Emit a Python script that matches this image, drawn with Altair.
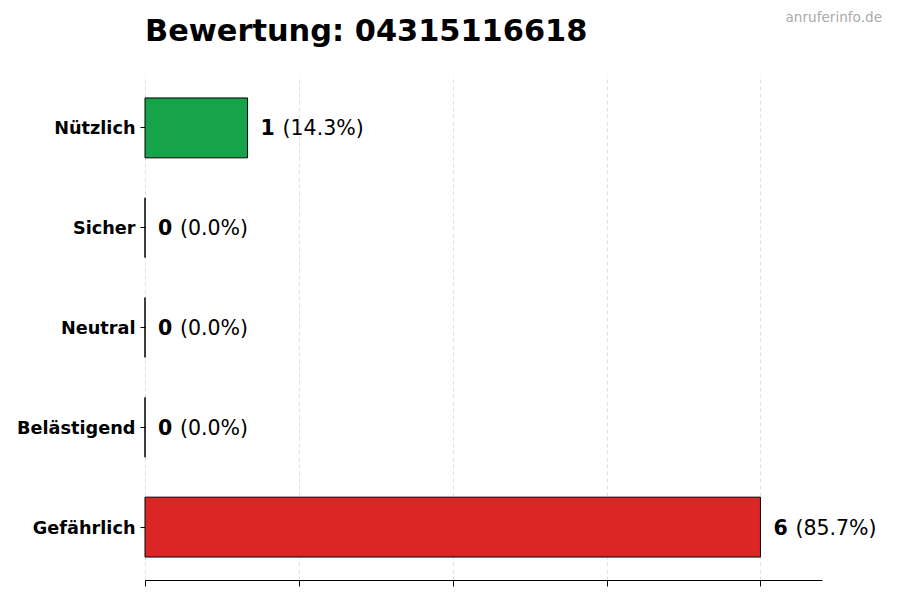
import altair as alt
import pandas as pd

categories = ["Nützlich", "Sicher", "Neutral", "Belästigend", "Gefährlich"]
counts = [1, 0, 0, 0, 6]
percent_labels = ["(14.3%)", "(0.0%)", "(0.0%)", "(0.0%)", "(85.7%)"]
colors = ["#16a34a", "#2563eb", "#6b7280", "#f59e0b", "#dc2626"]
x_ticks = [0, 1.5, 3, 4.5, 6]
title_text = "Bewertung: 04315116618"
watermark_text = "anruferinfo.de"

df = pd.DataFrame({"cat": categories, "n": counts, "pct": percent_labels})

FONT = "DejaVu Sans"
W, H = 677, 505

y_scale = alt.Scale(paddingInner=0.4, paddingOuter=0.23)
y_enc = alt.Y(
    "cat:N",
    sort=categories,
    scale=y_scale,
    axis=alt.Axis(
        title=None,
        labelFont=FONT,
        labelFontSize=17.7,
        labelFontWeight="bold",
        labelColor="black",
        labelPadding=5,
        labelOffset=1.5,
        tickSize=5,
        tickColor="black",
        domain=False,
        grid=False,
    ),
)
x_scale = alt.Scale(domain=[0, 6.6], nice=False, zero=True)

bars = alt.Chart(df).mark_bar(stroke="black", strokeWidth=1).encode(
    x=alt.X(
        "n:Q",
        scale=x_scale,
        axis=alt.Axis(
            title=None,
            values=x_ticks,
            labels=False,
            tickSize=6,
            tickColor="black",
            domainColor="black",
            domainWidth=1,
            grid=True,
            gridDash=[4, 3],
            gridColor="#d8d8d8",
            gridWidth=0.8,
        ),
    ),
    y=y_enc,
    color=alt.Color("cat:N", scale=alt.Scale(domain=categories, range=colors), legend=None),
)

num_text = alt.Chart(df).mark_text(
    align="left", baseline="middle", dx=13, dy=1.5, font=FONT, fontSize=20.5, fontWeight="bold", color="black"
).encode(
    x=alt.X("n:Q", scale=x_scale),
    y=alt.Y("cat:N", sort=categories),
    text="n:Q",
)

pct_text = alt.Chart(df).mark_text(
    align="left", baseline="middle", dx=35, dy=1.5, font=FONT, fontSize=20.5, color="black"
).encode(
    x=alt.X("n:Q", scale=x_scale),
    y=alt.Y("cat:N", sort=categories),
    text="pct:N",
)

title_mark = alt.Chart(pd.DataFrame({"t": [title_text]})).mark_text(
    align="left", baseline="alphabetic", font=FONT, fontSize=30.4, fontWeight="bold", color="black"
).encode(x=alt.value(0), y=alt.value(-34), text="t:N")

watermark = alt.Chart(pd.DataFrame({"t": [watermark_text]})).mark_text(
    align="right", baseline="alphabetic", font=FONT, fontSize=13.6, color="#aaaaaa"
).encode(x=alt.value(737), y=alt.value(-53), text="t:N")

chart = alt.layer(bars, num_text, pct_text, title_mark, watermark).properties(
    width=W,
    height=H,
    autosize=alt.AutoSizeParams(type="none"),
    padding={"left": 137, "top": 67, "right": 70, "bottom": 12},
    background="white",
).configure_view(stroke=None)

chart.save("out.html", embed_options={"renderer": "svg", "actions": False})
